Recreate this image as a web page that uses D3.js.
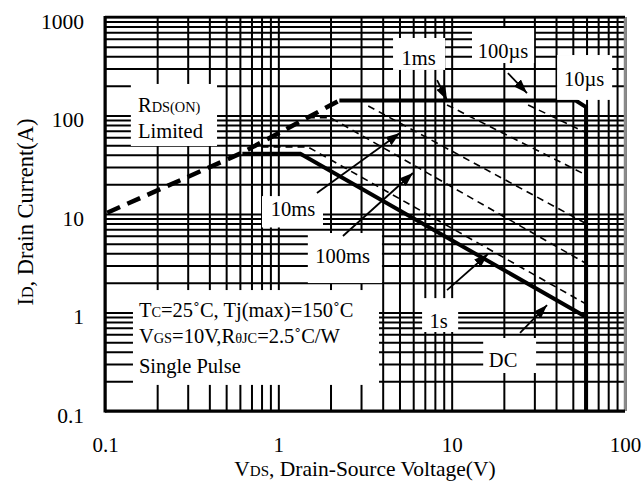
<!DOCTYPE html>
<html lang="en">
<head>
<meta charset="UTF-8">
<title>Safe Operating Area</title>
<script src="https://d3js.org/d3.v7.min.js"></script>
<style>
  body { margin: 0; background: #fff; }
  svg { display: block; font-family: "Liberation Serif", "Times New Roman", serif; }
</style>
</head>
<body>
<svg id="chart" width="643" height="481"></svg>
<script>
// decade tick labels
const xTicks = [0.1, 1, 10, 100];
const yTicks = [0.1, 1, 10, 100, 1000];

// SOA boundaries, VDS (V) vs ID (A)
const rdsV = [0.103, 0.62, 2.25];
const rdsI = [10.3, 42, 142];
const us10V = [2.25, 52, 59.6, 59.6];
const us10I = [142, 142, 122, 0.1];
const us100V = [27.6, 59.6];
const us100I = [128, 67];
const ms1V = [9.4, 59.6];
const ms1I = [128, 24.9];
const ms10V = [3.3, 59.6];
const ms10I = [125, 8.0];
const ms100V = [1.48, 2.0, 59.6];
const ms100I = [95, 95, 3.15];
const s1V = [0.8, 1.48, 59.6];
const s1I = [48, 48, 1.22];
const dcV = [0.62, 1.34, 59.6];
const dcI = [41, 41, 0.9];

// annotation arrows: [tail V, tail I, tip V, tip I]
const arrows = [
  [1.67, 16.3, 5.03, 66.4],   // 10ms
  [2.36, 5.98, 5.98, 26.1],   // 100ms
  [8.24, 229, 9.4, 143],      // 1ms
  [21.1, 270, 27.2, 169],     // 100us
  [9.4, 1.69, 16.2, 3.93],    // 1s
  [24.8, 0.62, 35.5, 1.19]    // DC
];

// white label boxes: [V left, V right, I top, I bottom]
const boxes = [
  [0.141, 0.443, 209, 49],    // Rds(on) limited
  [0.805, 1.81, 15.2, 7.3],   // 10ms
  [1.48, 3.96, 6.41, 1.99],   // 100ms
  [4.59, 9.16, 612, 290],     // 1ms
  [13.1, 29.9, 773, 341],     // 100us
  [40.6, 84.3, 411, 144],     // 10us
  [6.75, 10.9, 1.40, 0.634],  // 1s
  [15.2, 30.7, 0.551, 0.243], // DC
  [0.145, 3.81, 1.69, 0.184]  // test conditions
];

// label texts: parts are [string, relative size]
const labels = [
  { parts: [["R", 1], ["DS(ON)", 0.7]], v: 0.155, i: 108.5, anchor: "start" },
  { parts: [["Limited", 1]], v: 0.155, i: 59.1, anchor: "start" },
  { parts: [["10ms", 1]], v: 1.216, i: 9.54, anchor: "middle" },
  { parts: [["100ms", 1]], v: 2.35, i: 3.18, anchor: "middle" },
  { parts: [["1ms", 1]], v: 6.44, i: 326, anchor: "middle" },
  { parts: [["100\u00b5s", 1]], v: 19.8, i: 384, anchor: "middle" },
  { parts: [["10\u00b5s", 1]], v: 58.1, i: 199, anchor: "middle" },
  { parts: [["1s", 1]], v: 8.40, i: 0.696, anchor: "middle" },
  { parts: [["DC", 1]], v: 19.8, i: 0.280, anchor: "middle" },
  { parts: [["T", 1], ["C", 0.7], ["=25\u02daC, Tj(max)=150\u02daC", 1]], v: 0.157, i: 0.90, anchor: "start" },
  { parts: [["V", 1], ["GS", 0.7], ["=10V,R", 1], ["\u03b8JC", 0.7], ["=2.5\u02daC/W", 1]], v: 0.157, i: 0.49, anchor: "start" },
  { parts: [["Single Pulse", 1]], v: 0.157, i: 0.243, anchor: "start" }
];

const FONT = '"Liberation Serif", "Times New Roman", serif';
const svg = d3.select("#chart");
const x = d3.scaleLog().domain([0.1, 100]).range([105, 625]);
const y = d3.scaleLog().domain([0.1, 1000]).range([411, 17]);

// grid at every 1..9 of each decade
const xGrid = [], yGrid = [];
xTicks.slice(0, -1).forEach(d => { for (let k = 1; k < 10; k++) xGrid.push(d * k); });
xGrid.push(100);
yTicks.slice(0, -1).forEach(d => { for (let k = 1; k < 10; k++) yGrid.push(d * k); });
yGrid.push(1000);

const gx = svg.append("g")
  .attr("transform", `translate(0,${y(0.1)})`)
  .call(d3.axisBottom(x).tickValues(xGrid).tickSize(-(y(0.1) - y(1000))).tickFormat(""));
gx.select(".domain").remove();
gx.selectAll("line").attr("stroke", "#000").attr("stroke-width", 2);

const gy = svg.append("g")
  .attr("transform", `translate(${x(0.1)},0)`)
  .call(d3.axisLeft(y).tickValues(yGrid).tickSize(-(x(100) - x(0.1))).tickFormat(""));
gy.select(".domain").remove();
gy.selectAll("line").attr("stroke", "#000").attr("stroke-width", 2);

// frame
svg.append("line").attr("x1", x(100)).attr("x2", x(100)).attr("y1", y(1000)).attr("y2", y(0.1))
  .attr("stroke", "#8a8a8a").attr("stroke-width", 2.5);
svg.append("line").attr("x1", x(0.1)).attr("x2", x(100)).attr("y1", y(1000)).attr("y2", y(1000))
  .attr("stroke", "#000").attr("stroke-width", 2.5);
svg.append("line").attr("x1", x(0.1)).attr("x2", x(0.1)).attr("y1", y(1000) - 1).attr("y2", y(0.1) + 1.5)
  .attr("stroke", "#000").attr("stroke-width", 3);
svg.append("line").attr("x1", x(0.1)).attr("x2", x(100)).attr("y1", y(0.1)).attr("y2", y(0.1))
  .attr("stroke", "#000").attr("stroke-width", 3);

// tick labels
const xa = svg.append("g")
  .attr("transform", `translate(0,${y(0.1)})`)
  .call(d3.axisBottom(x).tickValues(xTicks).tickSize(0).tickFormat(d3.format("~g")));
xa.select(".domain").remove();
xa.selectAll("text").attr("y", 41).attr("dy", null)
  .attr("font-size", 21).attr("font-family", FONT).attr("fill", "#000");

const ya = svg.append("g")
  .attr("transform", `translate(${x(0.1)},0)`)
  .call(d3.axisLeft(y).tickValues(yTicks).tickSize(0).tickFormat(d3.format("~g")));
ya.select(".domain").remove();
ya.selectAll("text").attr("x", -21).attr("y", 11).attr("dy", null)
  .attr("font-size", 21.5).attr("font-family", FONT).attr("fill", "#000");

// axis titles
const xt = svg.append("text").attr("x", 365).attr("y", 475.5).attr("text-anchor", "middle")
  .attr("font-size", 21.5).attr("fill", "#000");
xt.append("tspan").text("V");
xt.append("tspan").attr("font-size", 15).text("DS");
xt.append("tspan").text(", Drain-Source Voltage(V)");

const yt = svg.append("text").attr("transform", "translate(33,212) rotate(-90)")
  .attr("text-anchor", "middle").attr("font-size", 22.5).attr("fill", "#000");
yt.append("tspan").text("I");
yt.append("tspan").attr("font-size", 16).text("D");
yt.append("tspan").text(", Drain Current(A)");

// curves
const line = d3.line().x(d => x(d[0])).y(d => y(d[1]));
const zip = (v, i) => v.map((d, k) => [d, i[k]]);
const curves = [
  { pts: zip(s1V, s1I), w: 1.6, dash: "7,5" },
  { pts: zip(ms100V, ms100I), w: 1.6, dash: "7,5" },
  { pts: zip(ms10V, ms10I), w: 1.6, dash: "7,5" },
  { pts: zip(ms1V, ms1I), w: 1.6, dash: "7,5" },
  { pts: zip(us100V, us100I), w: 1.6, dash: "7,5" },
  { pts: zip(rdsV, rdsI), w: 4.5, dash: "14,8" },
  { pts: zip(us10V, us10I), w: 4, dash: null },
  { pts: zip(dcV, dcI), w: 4, dash: null }
];
svg.append("g").selectAll("path")
  .data(curves)
  .join("path")
  .attr("d", d => line(d.pts))
  .attr("fill", "none")
  .attr("stroke", "#000")
  .attr("stroke-width", d => d.w)
  .attr("stroke-dasharray", d => d.dash)
  .attr("stroke-linejoin", "miter");

// label boxes and texts
svg.append("g").selectAll("rect")
  .data(boxes)
  .join("rect")
  .attr("x", d => x(d[0]))
  .attr("y", d => y(d[2]))
  .attr("width", d => x(d[1]) - x(d[0]))
  .attr("height", d => y(d[3]) - y(d[2]))
  .attr("fill", "#fff");

const LBL = 20.5;
labels.forEach(l => {
  const t = svg.append("text")
    .attr("x", x(l.v)).attr("y", y(l.i))
    .attr("text-anchor", l.anchor)
    .attr("font-size", LBL).attr("fill", "#000");
  l.parts.forEach(p => t.append("tspan").attr("font-size", LBL * p[1]).text(p[0]));
});

// arrows
svg.append("defs").append("marker")
  .attr("id", "arrowhead")
  .attr("markerUnits", "userSpaceOnUse")
  .attr("markerWidth", 14).attr("markerHeight", 10)
  .attr("refX", 14).attr("refY", 5)
  .attr("orient", "auto")
  .append("path").attr("d", "M0,0 L14,5 L0,10 Z").attr("fill", "#000");

svg.append("g").selectAll("line")
  .data(arrows)
  .join("line")
  .attr("x1", d => x(d[0])).attr("y1", d => y(d[1]))
  .attr("x2", d => x(d[2])).attr("y2", d => y(d[3]))
  .attr("stroke", "#000").attr("stroke-width", 1.8)
  .attr("marker-end", "url(#arrowhead)");
</script>
</body>
</html>
